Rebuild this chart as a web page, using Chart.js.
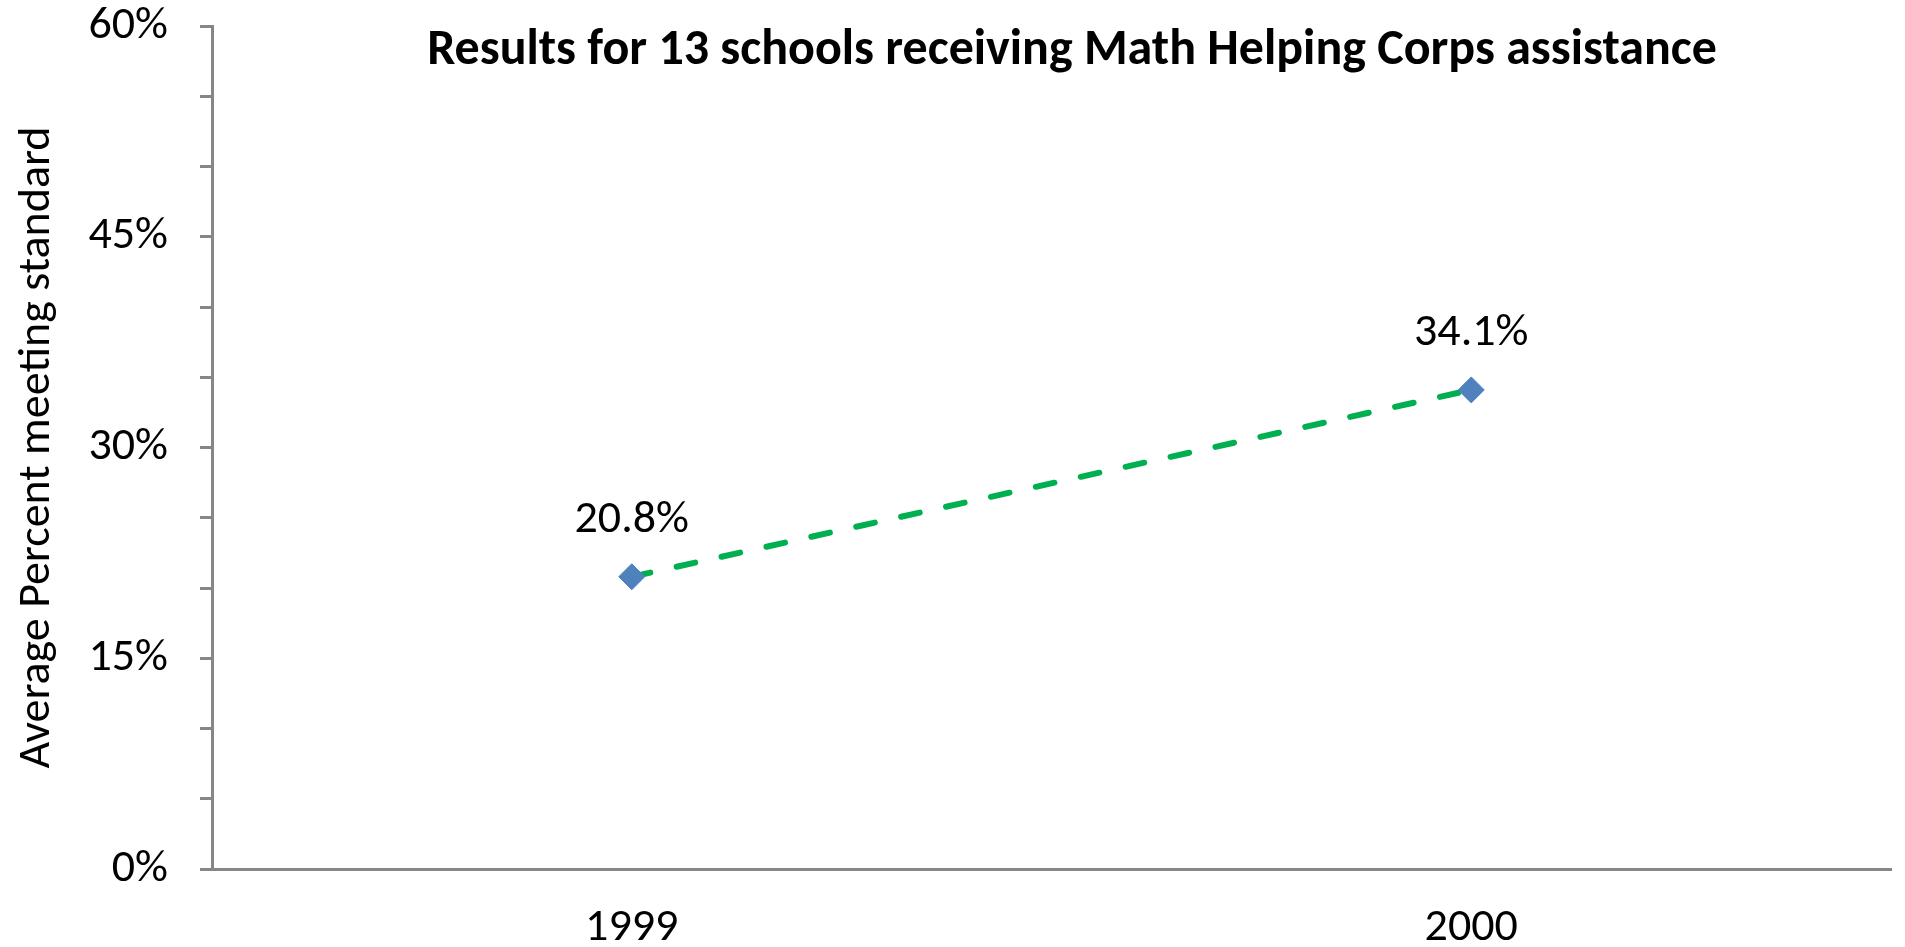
<!DOCTYPE html>
<html>
<head>
<meta charset="utf-8">
<script src="https://cdn.jsdelivr.net/npm/chart.js@4/dist/chart.umd.min.js"></script>
<style>
    html, body { margin: 0; padding: 0; background: #fff; }
    #wrap { width: 1905px; height: 947px; position: relative; }
</style>
</head>
<body>
<div id="wrap"><canvas id="mathChart"></canvas></div>
<script>
const years = ["1999", "2000"];
const avgMeeting = [20.8, 34.1];
const pointLabels = ["20.8%", "34.1%"];
const yTicks = [0, 15, 30, 45, 60];
const chartTitle = "Results for 13 schools receiving Math Helping Corps assistance";
const yTitle = "Average Percent meeting standard";

const FONT = "Carlito, Calibri, Lato, sans-serif";
const axisGray = "#868686";

// title + point labels drawn over the plot (Excel style)
const overlayText = {
    id: "overlayText",
    afterDatasetsDraw(chart) {
        const ctx = chart.ctx;
        const meta = chart.getDatasetMeta(0);
        ctx.save();
        ctx.fillStyle = "#000";
        ctx.font = "46px " + FONT;
        ctx.textAlign = "center";
        ctx.textBaseline = "middle";
        meta.data.forEach((pt, i) => {
            ctx.fillText(pointLabels[i], pt.x, pt.y - 56);
        });
        ctx.font = "bold 50px " + FONT;
        ctx.textBaseline = "alphabetic";
        ctx.fillText(chartTitle, 1072, 64);
        ctx.restore();
    }
};

new Chart(document.getElementById("mathChart"), {
    type: "line",
    data: {
        labels: years,
        datasets: [
            {
                data: avgMeeting,
                borderColor: "#00B050",
                borderWidth: 6,
                borderDash: [19, 27],
                borderCapStyle: "round",
                pointStyle: "rectRot",
                pointRadius: 13,
                pointHoverRadius: 13,
                pointBackgroundColor: "#4F81BD",
                pointBorderColor: "#4F81BD",
                pointBorderWidth: 1,
                fill: false,
            },
        ],
    },
    options: {
        responsive: true,
        maintainAspectRatio: false,
        animation: false,
        layout: {
            padding: { top: 26, right: 1, left: 0, bottom: 0 },
        },
        plugins: {
            legend: { display: false },
            tooltip: { enabled: false },
        },
        scales: {
            x: {
                offset: true,
                afterFit: (s) => { s.height = 78; },
                border: { color: axisGray, width: 3 },
                grid: { display: false, drawTicks: false },
                ticks: {
                    color: "#000",
                    padding: 32,
                    font: { family: FONT, size: 46 },
                },
            },
            y: {
                min: 0,
                max: 60,
                afterFit: (s) => {
                    s.width = 212;
                    s.paddingTop = 0;
                    s.paddingBottom = 0;
                },
                border: { color: axisGray, width: 3 },
                grid: {
                    drawOnChartArea: false,
                    drawTicks: true,
                    tickLength: 12,
                    color: axisGray,
                    lineWidth: 3,
                },
                ticks: {
                    stepSize: 5,
                    color: "#000",
                    padding: 32,
                    font: { family: FONT, size: 46 },
                    callback: (v) => (yTicks.includes(v) ? v + "%" : ""),
                },
                title: {
                    display: true,
                    text: yTitle,
                    color: "#000",
                    padding: { top: 10, bottom: 0 },
                    font: { family: FONT, size: 46 },
                },
            },
        },
    },
    plugins: [overlayText],
});
</script>
</body>
</html>
